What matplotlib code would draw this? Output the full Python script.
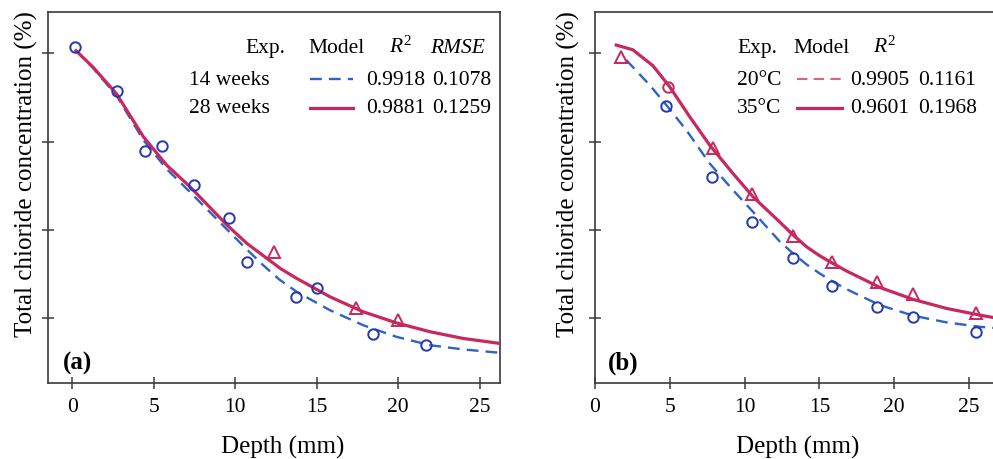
import matplotlib
matplotlib.use("Agg")
import matplotlib.pyplot as plt
from matplotlib.lines import Line2D

plt.rcParams['font.family'] = ['Liberation Serif', 'DejaVu Serif']
plt.rcParams['mathtext.fontset'] = 'custom'
plt.rcParams['mathtext.rm'] = 'Liberation Serif'
plt.rcParams['mathtext.it'] = 'Liberation Serif:italic'

# ---------------- data: panel (a) ----------------
a_x_14w = [0.17, 2.76, 4.46, 5.52, 7.47, 9.6, 10.72, 13.74, 15.0, 18.43, 21.68]
a_y_14w = [2.037, 1.787, 1.448, 1.475, 1.253, 1.069, 0.820, 0.618, 0.673, 0.409, 0.350]
a_x_28w = [12.39, 17.39, 19.96]
a_y_28w = [0.873, 0.560, 0.490]

a_fit14_x = [0.23, 1.29, 2.72, 4.36, 5.79, 7.22, 9.47, 10.6, 11.72, 12.7, 13.77, 15.81, 17.85, 19.90, 21.95, 23.99, 26.24]
a_fit14_y = [2.015, 1.915, 1.760, 1.509, 1.345, 1.215, 1.005, 0.900, 0.800, 0.720, 0.650, 0.546, 0.461, 0.395, 0.348, 0.324, 0.305]
a_fit28_x = [0.23, 1.29, 2.72, 4.36, 5.79, 7.22, 9.47, 10.7, 11.93, 12.8, 13.77, 15.81, 17.85, 19.90, 21.95, 23.99, 26.24]
a_fit28_y = [2.015, 1.920, 1.770, 1.528, 1.367, 1.245, 1.030, 0.925, 0.840, 0.780, 0.726, 0.622, 0.537, 0.474, 0.424, 0.386, 0.358]

a_labels = ["14 weeks", "28 weeks"]
a_r2 = ["0.9918", "0.9881"]
a_rmse = ["0.1078", "0.1259"]

# ---------------- data: panel (b) ----------------
b_x_20c = [4.77, 7.84, 10.52, 13.2, 15.81, 18.82, 21.27, 25.47]
b_y_20c = [1.702, 1.301, 1.046, 0.839, 0.682, 0.562, 0.509, 0.424]
b_x_35c = [1.75, 7.89, 10.50, 13.2, 15.81, 18.82, 21.27, 25.47]
b_y_35c = [1.977, 1.462, 1.203, 0.965, 0.820, 0.707, 0.637, 0.528]
b_x_35c_circ = [4.87]
b_y_35c_circ = [1.807]

b_fit20_x = [2.09, 3.65, 4.77, 6.10, 7.66, 9.22, 10.56, 12.35, 13.2, 14.14, 15.0, 15.81, 16.81, 19.04, 21.27, 23.5, 25.74, 26.6]
b_fit20_y = [1.962, 1.821, 1.707, 1.566, 1.377, 1.226, 1.103, 0.935, 0.870, 0.805, 0.755, 0.712, 0.665, 0.575, 0.515, 0.477, 0.452, 0.446]
b_fit35_x = [1.42, 2.53, 3.87, 4.99, 6.33, 7.66, 9.22, 10.56, 12.35, 13.2, 14.14, 15.0, 15.81, 16.81, 19.04, 21.27, 23.5, 25.74, 26.6]
b_fit35_y = [2.047, 2.020, 1.930, 1.811, 1.641, 1.481, 1.320, 1.188, 1.045, 0.975, 0.905, 0.855, 0.815, 0.768, 0.675, 0.607, 0.556, 0.518, 0.505]

b_labels = ["20°C", "35°C"]
b_r2 = ["0.9905", "0.9601"]
b_rmse = ["0.1161", "0.1968"]

x_ticks = [0, 5, 10, 15, 20, 25]
y_ticks = [0.5, 1.0, 1.5, 2.0]

# ---------------- style ----------------
RED = "#C8285C"
BLUE = "#2F62C8"
BLUE_M = "#2438B0"
PINK = "#E0607F"
SPINE = "#3a3a3a"
W, H = 993, 459

fig = plt.figure(figsize=(W / 100, H / 100), dpi=100)


def fx(px):
    return px / W


def fy(py):
    return 1 - py / H


def make_axes(left, right, xlim):
    ax = fig.add_axes([fx(left), fy(383), (right - left) / W, (383 - 12) / H])
    ax.set_xlim(*xlim)
    ax.set_ylim(0.134, 2.234)
    ax.set_xticks(x_ticks)
    ax.set_yticks(y_ticks)
    ax.set_yticklabels([])
    ax.tick_params(direction='inout', length=8, width=1.1, color=SPINE,
                   labelsize=15.5, pad=7)
    for s in ax.spines.values():
        s.set_color(SPINE)
        s.set_linewidth(1.2)
    return ax


axa = make_axes(48, 500, (-1.49, 26.24))
axb = make_axes(595, 993, (0, 26.6))
axb.spines['right'].set_visible(False)

# panel (a)
axa.plot(a_fit14_x, a_fit14_y, color=BLUE, lw=1.7, ls=(0, (5, 3)), zorder=2)
axa.plot(a_fit28_x, a_fit28_y, color=RED, lw=2.3, zorder=3)
axa.plot(a_x_14w, a_y_14w, 'o', ms=7.5, mfc='none', mec=BLUE_M, mew=1.4, zorder=4)
axa.plot(a_x_28w, a_y_28w, '^', ms=9, mfc='none', mec=RED, mew=1.4, zorder=4)

# panel (b)
axb.plot(b_fit20_x, b_fit20_y, color=BLUE, lw=1.7, ls=(0, (5, 3)), zorder=2)
axb.plot(b_fit35_x, b_fit35_y, color=RED, lw=2.3, zorder=3)
axb.plot(b_x_20c, b_y_20c, 'o', ms=7.5, mfc='none', mec=BLUE_M, mew=1.4, zorder=4)
axb.plot(b_x_35c, b_y_35c, '^', ms=9, mfc='none', mec=RED, mew=1.4, zorder=4)
axb.plot(b_x_35c_circ, b_y_35c_circ, 'o', ms=7.5, mfc='none', mec=RED, mew=1.4, zorder=4)

# axis labels
ylab = "Total chioride concentration (%)"
fig.text(fx(26), fy(174), ylab, rotation=90, ha='center', va='center', fontsize=18)
fig.text(fx(568), fy(174), ylab, rotation=90, ha='center', va='center', fontsize=18)
fig.text(fx(283), fy(454), "Depth (mm)", ha='center', va='baseline', fontsize=18)
fig.text(fx(797.5), fy(454), "Depth (mm)", ha='center', va='baseline', fontsize=18)

# panel tags
fig.text(fx(63), fy(370), "(a)", fontsize=18, fontweight='bold', va='baseline')
fig.text(fx(608), fy(370), "(b)", fontsize=18, fontweight='bold', va='baseline')

LFS = 15.5


def t(x, y, s, **kw):
    fig.text(fx(x), fy(y), s, fontsize=LFS, va='baseline', **kw)


def seg(x1, x2, y, **kw):
    fig.add_artist(Line2D([fx(x1), fx(x2)], [fy(y), fy(y)],
                          transform=fig.transFigure, **kw))


# legend (a)
t(245, 53, "Exp.")
t(308, 53, "Model")
t(389, 53, r"$R^2$")
t(430, 53, "RMSE", fontstyle='italic')
rows_y = [85, 113.5]
line_y = [79, 107.5]
styles_a = [dict(color=BLUE, lw=1.7, ls=(0, (5, 3))), dict(color=RED, lw=2.3)]
for i in range(2):
    t(189, rows_y[i], a_labels[i])
    seg(310, 353, line_y[i], **styles_a[i])
    t(366, rows_y[i], a_r2[i])
    t(432, rows_y[i], a_rmse[i])

# legend (b)
t(737, 53, "Exp.")
t(793, 53, "Model")
t(873, 53, r"$R^2$")
styles_b = [dict(color=PINK, lw=1.5, ls=(0, (5, 3))), dict(color=RED, lw=2.3)]
for i in range(2):
    t(737, rows_y[i], b_labels[i])
    seg(797, 842, line_y[i], **styles_b[i])
    t(850, rows_y[i], b_r2[i])
    t(918, rows_y[i], b_rmse[i])

fig.savefig("out.png", dpi=100)
